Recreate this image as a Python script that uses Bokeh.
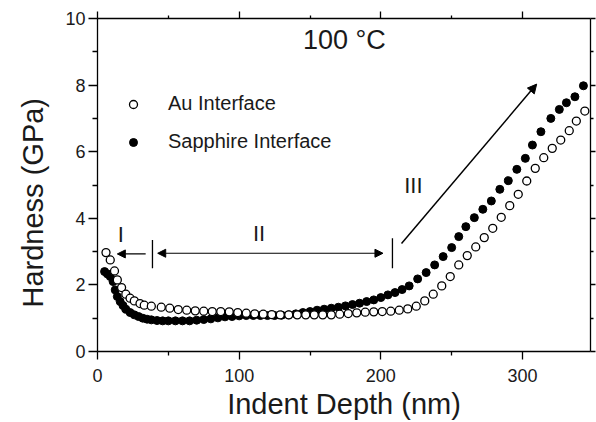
from bokeh.plotting import figure
from bokeh.models import (Range1d, LinearAxis, FixedTicker, Arrow, NormalHead,
                          Legend, LegendItem, Label, Title)
from bokeh.embed import file_html
from bokeh.resources import INLINE

# ---------------- data ----------------
au_depth = [6, 9, 12, 14, 17, 20, 23, 26, 30, 33, 38, 45, 51, 57, 63, 69, 75, 81, 87, 93,
            99, 105, 111, 117, 123, 129, 135, 141, 147, 153, 159, 165, 171, 177, 183, 189,
            195, 201, 207, 213, 219, 225, 231, 237, 243, 249, 255, 261, 267, 273, 279, 285,
            291, 297, 303, 309, 315, 321, 327, 333, 338, 344]
au_hard = [2.97, 2.75, 2.42, 2.15, 1.92, 1.72, 1.6, 1.52, 1.44, 1.39, 1.36, 1.33, 1.3, 1.26,
           1.24, 1.22, 1.21, 1.2, 1.2, 1.19, 1.17, 1.15, 1.13, 1.12, 1.11, 1.1, 1.1, 1.1,
           1.1, 1.1, 1.1, 1.1, 1.12, 1.14, 1.16, 1.18, 1.19, 1.2, 1.21, 1.24, 1.28, 1.36,
           1.52, 1.72, 1.97, 2.25, 2.6, 2.88, 3.14, 3.42, 3.7, 4.03, 4.38, 4.72, 5.12,
           5.5, 5.82, 6.1, 6.35, 6.63, 6.92, 7.22]

sa_depth = [5, 7, 9, 11, 12.5, 14, 16, 18, 20, 23, 26, 29, 32, 35, 38, 42, 46, 50, 55, 60,
            65, 70, 75, 80, 85, 90, 95, 100, 105, 110, 115, 120, 125, 130, 135, 140, 145,
            150, 155, 160, 165, 170, 175, 180, 185, 190, 195, 200, 205, 210, 215, 220, 226,
            232, 238, 244, 250, 255, 260, 266, 272, 278, 284, 290, 296, 302, 307, 313,
            320, 326, 331, 337, 343]
sa_hard = [2.4, 2.33, 2.25, 2.1, 1.85, 1.65, 1.5, 1.38, 1.27, 1.17, 1.1, 1.05, 1.0, 0.97,
           0.95, 0.93, 0.92, 0.92, 0.92, 0.92, 0.92, 0.94, 0.96, 0.98, 1.01, 1.04, 1.05,
           1.07, 1.08, 1.08, 1.08, 1.08, 1.08, 1.09, 1.1, 1.13, 1.17, 1.2, 1.24, 1.27, 1.3,
           1.33, 1.37, 1.41, 1.45, 1.5, 1.55, 1.62, 1.7, 1.77, 1.86, 1.97, 2.18, 2.37, 2.6,
           2.85, 3.12, 3.45, 3.75, 4.02, 4.27, 4.52, 4.87, 5.13, 5.47, 5.8, 6.2, 6.6, 7.0,
           7.27, 7.47, 7.65, 7.98]

x_major = [0, 100, 200, 300]
x_minor = [50, 150, 250]
y_major = [0, 2, 4, 6, 8, 10]
y_minor = [1, 3, 5, 7, 9]

# region annotations (data units)
arrow_I = (34, 14, 2.93)            # x_start, x_end, y
arrow_II = (42.5, 201.5, 2.95)      # x_start, x_end, y
bars_x = [38.8, 208.2]
bars_y0 = [2.5, 2.5]
bars_y1 = [3.35, 3.4]
arrow_III = (214.6, 3.24, 310, 8.03)

FONT = "Liberation Sans"
INK = "#1a1a1a"

p = figure(width=596, height=422, output_backend="svg", toolbar_location=None,
           x_range=Range1d(0, 348), y_range=Range1d(0, 10),
           min_border_left=96, min_border_top=18, min_border_right=6, min_border_bottom=69)
p.xgrid.visible = False
p.ygrid.visible = False
p.outline_line_color = None
p.background_fill_color = "white"
p.border_fill_color = "white"

xt = FixedTicker(ticks=x_major, minor_ticks=x_minor)
yt = FixedTicker(ticks=y_major, minor_ticks=y_minor)

bx = p.xaxis[0]
bx.ticker = xt
bx.axis_label = "Indent Depth (nm)"
bx.axis_label_text_font = FONT
bx.axis_label_text_font_size = "29px"
bx.axis_label_text_font_style = "normal"
bx.axis_label_text_color = INK
bx.axis_label_standoff = 3
bx.major_label_text_font = FONT
bx.major_label_text_font_size = "18px"
bx.major_label_text_color = INK
bx.major_label_standoff = 9
bx.major_tick_out = 8
bx.major_tick_in = 0
bx.minor_tick_out = 4
bx.minor_tick_in = 0
bx.axis_line_width = 1.3
bx.major_tick_line_width = 1.3
bx.minor_tick_line_width = 1.3

ly = p.yaxis[0]
ly.ticker = yt
ly.major_label_text_font = FONT
ly.major_label_text_font_size = "18px"
ly.major_label_text_color = INK
ly.major_label_standoff = 3
ly.major_tick_out = 9
ly.major_tick_in = 0
ly.minor_tick_out = 5
ly.minor_tick_in = 0
ly.axis_line_width = 1.3
ly.major_tick_line_width = 1.3
ly.minor_tick_line_width = 1.3

tx = LinearAxis(ticker=FixedTicker(ticks=x_major, minor_ticks=x_minor),
                major_label_overrides={v: "" for v in x_major},
                major_label_text_font_size="1px", major_label_standoff=0,
                major_tick_out=7, major_tick_in=0, minor_tick_out=3, minor_tick_in=0,
                axis_line_width=1.3, major_tick_line_width=1.3, minor_tick_line_width=1.3)
p.add_layout(tx, "above")
ry = LinearAxis(ticker=FixedTicker(ticks=y_major, minor_ticks=y_minor),
                major_label_overrides={v: "" for v in y_major},
                major_label_text_font_size="1px", major_label_standoff=0,
                major_tick_out=5, major_tick_in=0, minor_tick_out=3, minor_tick_in=0,
                axis_line_width=1.3, major_tick_line_width=1.3, minor_tick_line_width=1.3)
p.add_layout(ry, "right")

# y-axis title (sits slightly below the frame centre, as in the original)
p.add_layout(Title(text="Hardness (GPa)", align="left", offset=44, standoff=28,
                   text_font=FONT, text_font_size="29px", text_font_style="normal",
                   text_color=INK), "left")

r_sa = p.scatter(sa_depth, sa_hard, marker="circle", size=8, fill_color="black",
                 line_color="black", line_width=1)
r_au = p.scatter(au_depth, au_hard, marker="circle", size=8, fill_color="white",
                 line_color="black", line_width=1.3)

legend = Legend(items=[LegendItem(label="Au Interface", renderers=[r_au]),
                       LegendItem(label="Sapphire Interface", renderers=[r_sa])],
                location=(26, 198), border_line_color=None, background_fill_alpha=0,
                padding=0, margin=0, spacing=15, glyph_width=20, glyph_height=20,
                label_height=20, label_standoff=25, label_text_font=FONT,
                label_text_font_size="20px", label_text_color=INK)
p.add_layout(legend)

# region arrows
p.add_layout(Arrow(end=NormalHead(size=8, fill_color="black", line_color="black"),
                   x_start=arrow_I[0], x_end=arrow_I[1], y_start=arrow_I[2], y_end=arrow_I[2],
                   line_width=1.2))
p.add_layout(Arrow(start=NormalHead(size=8, fill_color="black", line_color="black"),
                   end=NormalHead(size=8, fill_color="black", line_color="black"),
                   x_start=arrow_II[0], x_end=arrow_II[1], y_start=arrow_II[2], y_end=arrow_II[2],
                   line_width=1.2))
p.add_layout(Arrow(end=NormalHead(size=9, fill_color="black", line_color="black"),
                   x_start=arrow_III[0], y_start=arrow_III[1], x_end=arrow_III[2], y_end=arrow_III[3],
                   line_width=1.5))
p.segment(x0=bars_x, y0=bars_y0, x1=bars_x, y1=bars_y1, line_color="black", line_width=1.3)

for txt, x, y, fs in [("I", 16.5, 3.5, "22px"), ("II", 114, 3.55, "22px"), ("III", 223, 5.0, "22px")]:
    p.add_layout(Label(x=x, y=y, text=txt, text_font=FONT, text_font_size=fs,
                       text_align="center", text_baseline="middle", text_color=INK))

p.add_layout(Label(x=145, y=9.36, text="100 °C", text_font=FONT, text_font_size="27px",
                   text_align="left", text_baseline="alphabetic", text_color=INK))

open("out.html", "w").write(file_html(p, INLINE))
